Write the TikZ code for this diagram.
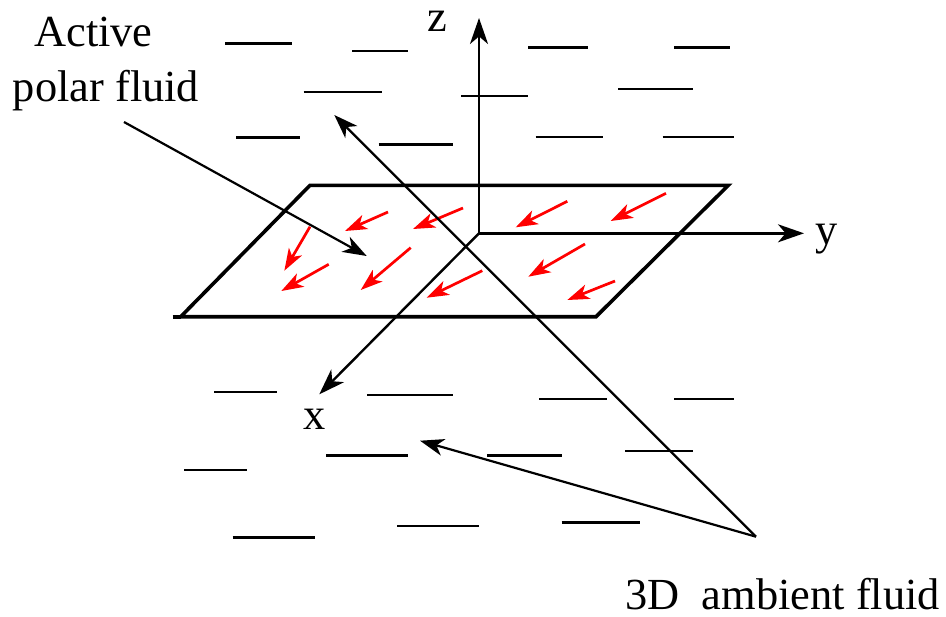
\documentclass[tikz,border=0pt]{standalone}
\usepackage{fontspec}
\setmainfont{Liberation Serif}
\usetikzlibrary{arrows.meta}
\begin{document}
\begin{tikzpicture}[x=0.5pt,y=-0.5pt,
  lbl/.style={font=\fontsize{22.2}{26}\selectfont, inner sep=0pt, anchor=base},
  axisline/.style={line width=1.2pt, -{Stealth[length=13pt,width=9pt,inset=3.8pt]}},
  pointer/.style={line width=1.1pt, -{Stealth[length=12pt,width=8.5pt,inset=3.5pt]}},
  polar/.style={red, line width=1.35pt, -{Stealth[length=11pt,width=7.5pt,inset=3pt]}},
  sheet/.style={line width=1.8pt},
  fluidbar/.style={line width=1.2pt}]
\useasboundingbox (0,0) rectangle (946,616);

% ambient fluid bars
\foreach \xa/\xb/\yy in {225/292.3/43.3, 352.3/408.3/51, 528.3/587.7/47.3, 674/730/47.3,
  303.7/382/92, 461/528/96, 618/692.7/88.7,
  236.3/299.7/137.3, 378.7/453.3/144.3, 535.7/602.7/137, 662.7/734/137,
  214/277.3/391.7, 367.3/453.3/395, 539.3/606.7/399, 674/733.7/399,
  184/247.3/470, 326/408.3/455.3, 487/561.7/455.3, 625.3/692.7/451,
  232.7/314.7/537.3, 397/479.3/526, 561.7/640.3/522.3}
  \draw[fluidbar] (\xa,\yy) -- (\xb,\yy);

% active sheet
\coordinate (p1) at (310,185.3);
\coordinate (p2) at (728.3,185.3);
\coordinate (p3) at (596,316.7);
\coordinate (p4) at (180.7,316.7);
\coordinate (p5) at (172.7,316.7);
\draw[sheet] (p1) -- (p2) -- (p3) -- (p4) -- cycle;
\draw[sheet] (p5) -- (p4);

% axes
\coordinate (O) at (479,233.3);
\coordinate (zt) at (479,18);
\coordinate (yt) at (804,233.3);
\coordinate (xt) at (319.3,394.3);
\draw[axisline] (O) -- (zt);
\draw[axisline] (O) -- (yt);
\draw[axisline] (O) -- (xt);
\node[lbl] (zl) at (437,31.7) {z};
\node[lbl] (yl) at (827,244.7) {y};
\node[lbl] (xl) at (314.7,429) {x};

% polar arrows
\foreach \sx/\sy/\tx/\ty [count=\i] in {388/212/345/231, 463/208/413/229, 567.3/201.3/515.7/227.3,
  666/193.3/610.7/221, 310/226.7/284.3/270.7, 328.7/264.3/281.3/291, 410.7/247.7/360.7/290,
  482.3/270.7/426.7/297.7, 585/244/528.3/276.7, 615/281/567.3/300}
{
  \coordinate (ps\i) at (\sx,\sy);
  \coordinate (pt\i) at (\tx,\ty);
  \draw[polar] (ps\i) -- (pt\i);
}

% labels
\node[lbl] (act1) at (93.5,46) {Active};
\node[lbl] (act2) at (106,101) {polar fluid};
\coordinate (actfrom) at (124,122);
\coordinate (actto) at (366.7,256);
\draw[pointer] (actfrom) -- (actto);

\node[lbl, anchor=base west] (amb) at (625,609) {3D\ \ ambient fluid};
\coordinate (ambfrom) at (756,536.7);
\coordinate (ambto1) at (334.3,115);
\coordinate (ambto2) at (420,440.7);
\draw[pointer] (ambfrom) -- (ambto1);
\draw[pointer] (ambfrom) -- (ambto2);
\end{tikzpicture}
\end{document}
